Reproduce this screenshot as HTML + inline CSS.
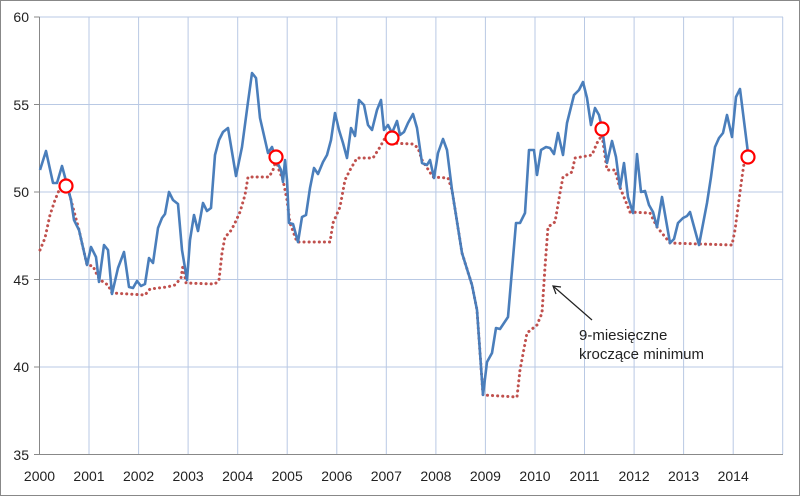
<!DOCTYPE html>
<html><head><meta charset="utf-8"><style>
html,body{margin:0;padding:0;background:#fff;}
svg{display:block;}
text{font-family:"Liberation Sans",sans-serif;fill:#222;}
</style></head><body>
<svg width="800" height="496" viewBox="0 0 800 496" xmlns="http://www.w3.org/2000/svg">
<rect x="0.5" y="0.5" width="799" height="495" fill="#fff" stroke="#888" stroke-width="1"/>
<g stroke="#b9c9e4" stroke-width="1">
<line x1="39.5" y1="17" x2="783" y2="17"/>
<line x1="39.5" y1="104.5" x2="783" y2="104.5"/>
<line x1="39.5" y1="192" x2="783" y2="192"/>
<line x1="39.5" y1="279.5" x2="783" y2="279.5"/>
<line x1="39.5" y1="367" x2="783" y2="367"/>
<line x1="89" y1="17" x2="89" y2="454"/>
<line x1="138.6" y1="17" x2="138.6" y2="454"/>
<line x1="188.1" y1="17" x2="188.1" y2="454"/>
<line x1="237.7" y1="17" x2="237.7" y2="454"/>
<line x1="287.2" y1="17" x2="287.2" y2="454"/>
<line x1="336.8" y1="17" x2="336.8" y2="454"/>
<line x1="386.3" y1="17" x2="386.3" y2="454"/>
<line x1="435.9" y1="17" x2="435.9" y2="454"/>
<line x1="485.4" y1="17" x2="485.4" y2="454"/>
<line x1="535" y1="17" x2="535" y2="454"/>
<line x1="584.5" y1="17" x2="584.5" y2="454"/>
<line x1="634.1" y1="17" x2="634.1" y2="454"/>
<line x1="683.6" y1="17" x2="683.6" y2="454"/>
<line x1="733.2" y1="17" x2="733.2" y2="454"/>
<line x1="782.7" y1="17" x2="782.7" y2="454"/>
</g>
<g stroke="#888" stroke-width="1">
<line x1="39.5" y1="17" x2="39.5" y2="454"/>
<line x1="39.5" y1="454.5" x2="783" y2="454.5"/>
<line x1="34" y1="17" x2="39.5" y2="17"/><line x1="34" y1="104.5" x2="39.5" y2="104.5"/><line x1="34" y1="192" x2="39.5" y2="192"/><line x1="34" y1="279.5" x2="39.5" y2="279.5"/><line x1="34" y1="367" x2="39.5" y2="367"/><line x1="34" y1="454.5" x2="39.5" y2="454.5"/>
</g>
<g font-size="14" text-anchor="end">
<text x="29" y="22">60</text><text x="29" y="110">55</text><text x="29" y="197">50</text><text x="29" y="285">45</text><text x="29" y="372">40</text><text x="29" y="460">35</text>
</g>
<g font-size="14" text-anchor="middle">
<text x="39.5" y="481">2000</text><text x="89" y="481">2001</text><text x="138.6" y="481">2002</text><text x="188.1" y="481">2003</text><text x="237.7" y="481">2004</text><text x="287.2" y="481">2005</text><text x="336.8" y="481">2006</text><text x="386.3" y="481">2007</text><text x="435.9" y="481">2008</text><text x="485.4" y="481">2009</text><text x="535" y="481">2010</text><text x="584.5" y="481">2011</text><text x="634.1" y="481">2012</text><text x="683.6" y="481">2013</text><text x="733.2" y="481">2014</text>
</g>
<polyline fill="none" stroke="#c0504d" stroke-width="3" stroke-dasharray="0.1 5" stroke-linecap="round" points="40,250 45,238 50,215 55,200 60,188 66,182 71,200 79,230 87,265 93,266 98,277 103,282 108,285 112,293 145,295 150,289 167,287 175,285 181,278 183,265 186,283 215,284 219,280 222,253 225,237 230,232 234,225 240,212 245,195 248,177 269,177 273,170 276,160 279,170 283,180 287,200 290,223 297,242 330,242 333,223 340,207 345,180 350,170 357,158 373,158 380,147 385,138 390,143 413,144 418,148 422,160 433,177 448,178 452,190 462,253 472,285 477,310 483,395 517,397 520,370 527,333 537,325 542,313 545,267 548,227 555,222 560,193 563,177 572,172 575,158 592,155 597,143 602,135 607,170 615,170 619,185 630,212 650,213 657,227 670,243 732,245 735,230 742,177 745,157"/>
<polyline fill="none" stroke="#4a7ebb" stroke-width="2.6" stroke-linejoin="round" points="40,170 46,151 53,183 57,183 62,166 66,181 71,200 74,220 79,230 87,265 91,247 96,257 99,282 104,245 108,250 112,294 118,268 124,252 129,287 133,288 137,281 141,286 145,284 149,258 153,263 158,228 162,218 165,214 169,192 173,200 178,204 182,250 187,280 190,240 194,215 198,231 203,203 207,211 211,208 215,155 219,140 223,132 228,128 236,176 242,147 248,102 252,73 256,78 260,118 268,153 272,147 276,160 281,170 283,182 285,160 287,180 289,223 293,224 298,242 302,217 306,215 310,188 314,168 318,174 323,162 327,155 331,140 335,113 339,130 343,143 347,158 351,128 355,136 359,100 364,105 368,125 372,130 377,110 381,100 384,130 388,125 392,133 397,121 400,135 404,132 408,123 413,114 417,128 422,163 427,165 430,160 434,178 438,153 443,139 447,150 452,190 462,253 472,285 477,310 483,395 487,362 492,353 496,328 500,329 508,317 516,223 520,223 525,213 529,150 534,150 537,175 541,150 546,147 550,148 554,154 558,133 563,155 567,123 574,95 579,90 583,82 587,98 591,125 595,108 599,115 602,128 607,163 612,141 616,157 620,188 624,163 628,197 633,213 637,154 641,192 645,191 649,205 653,212 657,227 662,197 666,220 670,243 674,239 678,223 683,218 687,216 690,212 699,245 707,203 711,177 715,147 719,138 723,133 727,115 732,137 736,97 740,89 748,153"/>
<g fill="#fff" stroke="#ff0000" stroke-width="2.2">
<circle cx="66" cy="186" r="6.5"/><circle cx="276" cy="157" r="6.5"/><circle cx="392" cy="138" r="6.5"/><circle cx="602" cy="129" r="6.5"/><circle cx="748" cy="157" r="6.5"/>
</g>
<line x1="592" y1="320" x2="553" y2="286" stroke="#222" stroke-width="1.2"/>
<polyline points="561,287 553,286 556,294" fill="none" stroke="#222" stroke-width="1.2"/>
<g font-size="15"><text x="579" y="340">9-miesięczne</text><text x="579" y="359">kroczące minimum</text></g>
</svg>
</body></html>
